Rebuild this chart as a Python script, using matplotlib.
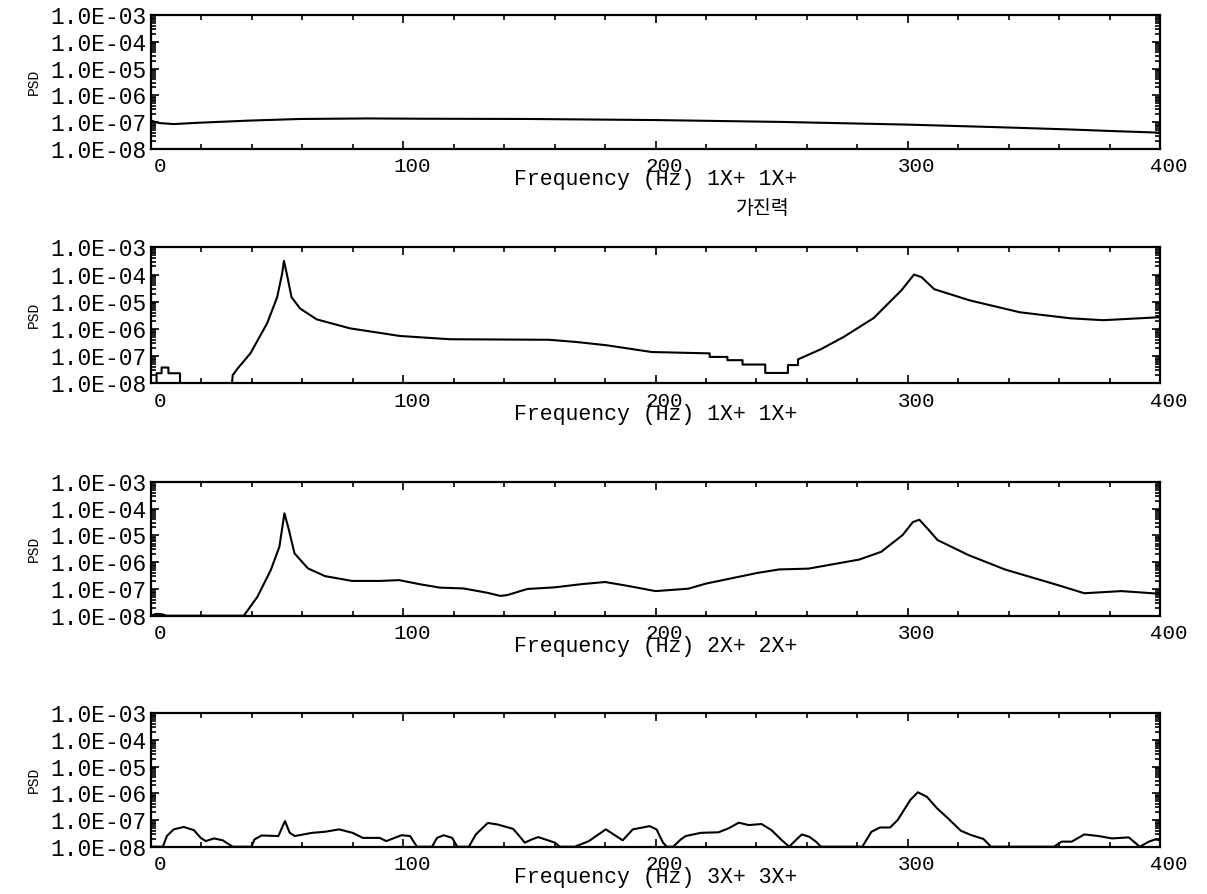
import matplotlib
matplotlib.use('Agg')
import matplotlib.pyplot as plt
import matplotlib.transforms as mtransforms
import numpy as np
from matplotlib.ticker import LogLocator, MultipleLocator, FuncFormatter, NullFormatter

# ---------------- data (frequency in Hz, PSD given as log10 exponent) ----------------
f1 = [0, 3, 9, 19, 39, 59, 86, 106, 150, 200, 250, 300, 337, 364, 381, 400]
l1 = [-6.94, -7.03, -7.07, -7.02, -6.94, -6.88, -6.86, -6.87, -6.88, -6.92,
      -6.99, -7.09, -7.19, -7.27, -7.33, -7.39]

f2 = [1, 2.2, 2.2, 4.2, 4.2, 6.9, 6.9, 11.5, 11.5, 32.1, 32.4, 34.4, 39.4, 46, 50, 52,
      52.7, 53.8, 55.7, 59.1, 65.7, 78.9, 98.7, 118.5, 157.8, 168.5, 180.5, 198.5,
      221.5, 221.5, 228.5, 228.5, 234.5, 234.5, 243.5, 243.5, 252.5, 252.5, 256.5,
      256.5, 265.5, 274.5, 286.5, 297.5, 302.5, 305.5, 310.5, 324.5, 344.5, 364.5,
      377.5, 400]
l2 = [-8, -8, -7.63, -7.63, -7.42, -7.42, -7.63, -7.63, -8, -8, -7.7, -7.45, -6.9,
      -5.8, -4.84, -3.96, -3.5, -3.96, -4.83, -5.25, -5.65, -5.98, -6.26, -6.38, -6.4,
      -6.48, -6.6, -6.85, -6.9, -7.03, -7.03, -7.15, -7.15, -7.31, -7.31, -7.62, -7.62,
      -7.33, -7.33, -7.12, -6.75, -6.3, -5.6, -4.58, -4.0, -4.1, -4.54, -4.95, -5.39,
      -5.61, -5.68, -5.57]

f3 = [0, 2, 4.5, 6, 36.8, 42.2, 47.5, 50.9, 52.9, 54.5, 56.9, 62.2, 69, 79.7, 90.4,
      98.4, 106.4, 114.5, 123.8, 133.2, 138.5, 141.2, 149.2, 160, 170.7, 180, 189.3,
      200, 213, 220, 240.4, 249, 260.6, 280.8, 289.5, 298, 302, 304.6, 308, 311.8,
      324, 338.5, 360, 370, 384.7, 400]
l3 = [-8, -7.93, -7.95, -8, -8, -7.29, -6.29, -5.42, -4.17, -4.73, -5.67, -6.23,
      -6.52, -6.70, -6.70, -6.67, -6.82, -6.95, -6.98, -7.14, -7.26, -7.23, -7.0,
      -6.94, -6.82, -6.74, -6.89, -7.08, -6.99, -6.80, -6.40, -6.27, -6.24, -5.90,
      -5.61, -4.98, -4.5, -4.41, -4.76, -5.17, -5.73, -6.27, -6.87, -7.16, -7.08, -7.18]

f4 = [0, 4.7, 6.3, 9, 13, 17, 19.7, 21.7, 25, 28.4, 32.4, 39.8, 41, 43.8, 50.5, 53.1,
      55, 57, 63.9, 69, 74.6, 79.9, 84, 90.6, 93.3, 96, 99.3, 102.7, 105.4, 111.4,
      113.4, 116, 119.4, 121.4, 126, 128.8, 133.5, 137.5, 143.5, 145.5, 148.2, 150.9,
      153.5, 160.2, 162, 168, 173.6, 180.3, 187, 191, 197.7, 200.4, 203, 204.5, 207,
      210, 212, 218, 225, 229, 233, 237, 242, 246, 250, 253, 255, 258, 261, 263.6,
      265.6, 282, 285.6, 289, 293, 296, 301, 304, 307.6, 311.6, 316, 321, 325, 330,
      333, 358, 361, 365, 370, 375.6, 381, 387.6, 392, 395.6, 398, 400]
l4 = [-8, -8, -7.60, -7.35, -7.26, -7.38, -7.67, -7.79, -7.69, -7.76, -8, -8, -7.73,
      -7.58, -7.60, -7.04, -7.48, -7.60, -7.48, -7.44, -7.35, -7.48, -7.67, -7.67,
      -7.79, -7.69, -7.57, -7.60, -8, -8, -7.67, -7.57, -7.67, -8, -8, -7.54, -7.11,
      -7.17, -7.33, -7.54, -7.85, -7.73, -7.64, -7.85, -8, -8, -7.79, -7.35, -7.76,
      -7.35, -7.23, -7.35, -7.85, -8, -8, -7.73, -7.6, -7.48, -7.46, -7.31, -7.1,
      -7.19, -7.15, -7.38, -7.75, -8, -7.81, -7.54, -7.63, -7.81, -8, -8, -7.44,
      -7.28, -7.28, -7.0, -6.25, -5.96, -6.13, -6.56, -6.94, -7.4, -7.56, -7.71, -8,
      -8, -7.81, -7.81, -7.54, -7.6, -7.69, -7.65, -8, -7.81, -7.73, -7.75]

freqs = [f1, f2, f3, f4]
logs = [l1, l2, l3, l4]
xlabels = ["Frequency (Hz) 1X+ 1X+", "Frequency (Hz) 1X+ 1X+",
           "Frequency (Hz) 2X+ 2X+", "Frequency (Hz) 3X+ 3X+"]
note = "가진력"
ylabel = "PSD"
xlim = (0, 400)
ylim = (1e-8, 1e-3)

# ---------------- layout ----------------
W, H = 1207, 894
plt.rcParams['font.family'] = ['Liberation Mono', 'DejaVu Sans Mono']
fig = plt.figure(figsize=(W / 100, H / 100), dpi=100)

left_px, right_px = 151, 1160
panels_px = [(15, 149), (247.3, 383.3), (482, 615.7), (713.3, 846.7)]

axes = []
for i, (top, bot) in enumerate(panels_px):
    ax = fig.add_axes([left_px / W, 1 - bot / H, (right_px - left_px) / W, (bot - top) / H])
    ax.plot(freqs[i], 10 ** np.array(logs[i]), color='black', lw=1.5)
    ax.set_yscale('log')
    ax.set_xlim(*xlim)
    ax.set_ylim(*ylim)
    ax.xaxis.set_major_locator(MultipleLocator(100))
    ax.xaxis.set_minor_locator(MultipleLocator(20))
    ax.yaxis.set_major_locator(LogLocator(base=10, numticks=10))
    ax.yaxis.set_minor_locator(LogLocator(base=10, subs=np.arange(2, 10), numticks=20))
    ax.yaxis.set_minor_formatter(NullFormatter())
    ax.yaxis.set_major_formatter(FuncFormatter(lambda v, p: f"{v:.1E}"))
    ax.tick_params(which='both', direction='in', top=True, right=True, width=1.2,
                   colors='black')
    ax.tick_params(which='major', length=6)
    ax.tick_params(which='minor', length=3.5)
    ax.tick_params(axis='x', which='major', labelsize=15, pad=6)
    ax.tick_params(axis='y', which='major', labelsize=16.5, pad=3)
    for s in ax.spines.values():
        s.set_linewidth(1.6)
    # x label text and PSD label
    fig.text(655.5 / W, 1 - (bot + 31) / H, xlabels[i], ha='center', va='center',
             fontsize=15.5)
    fig.text(34 / W, 1 - ((top + bot) / 2) / H, ylabel, rotation=90, ha='center',
             va='center', fontsize=10.5)
    axes.append(ax)

fig.text(763 / W, 1 - 208 / H, note, ha='center', va='center', fontsize=14,
         family=['Noto Sans CJK KR', 'DejaVu Sans'])

fig.canvas.draw()
offset = mtransforms.ScaledTranslation(9 / 100, 0, fig.dpi_scale_trans)
for ax in axes:
    for t in ax.xaxis.get_major_ticks():
        t.label1.set_transform(t.label1.get_transform() + offset)

fig.savefig('out.png', dpi=100)
